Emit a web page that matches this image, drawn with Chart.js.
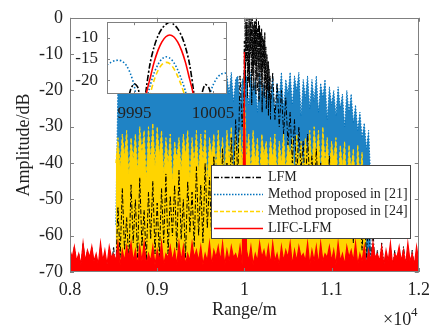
<!DOCTYPE html>
<html>
<head>
<meta charset="utf-8">
<script src="https://cdn.jsdelivr.net/npm/chart.js@4.4.0/dist/chart.umd.min.js"></script>
<style>
  html, body { margin: 0; padding: 0; background: #fff; }
  #wrap { position: relative; width: 437px; height: 329px; }
  #main { position: absolute; left: 0; top: 0; }
  #zoom { position: absolute; left: 55px; top: 3px; }
</style>
</head>
<body>
<div id="wrap">
  <canvas id="main" width="437" height="329"></canvas>
  <canvas id="zoom" width="190" height="125"></canvas>
</div>
<script>
// series names, in legend order
const seriesNames = ['LFM', 'Method proposed in [21]', 'Method proposed in [24]', 'LIFC-LFM'];

// main axes
const rangeTicks = [8000, 9000, 10000, 11000, 12000];
const rangeTickLabels = ['0.8', '0.9', '1', '1.1', '1.2'];
const ampTicks = [0, -10, -20, -30, -40, -50, -60, -70];

// range samples: start (m) and step (m)
const gridStart = 8000;
const gridStep = 25;

// LFM, 8000..12000
const lfm = [
  -64,-70,-63,-69,-65,-70,-62,-68,-64,-70,-63,-69,-66,-70,-63,-68,-65,-70,-64,-69,
  -63,-70,-52,-66,-47,-64,-55,-68,-46,-62,-50,-66,-44,-63,-53,-67,-48,-61,-45,-65,
  -51,-66,-47,-62,-43,-65,-49,-60,-46,-64,-42,-61,-50,-66,-45,-59,-48,-63,-41,-60,
  -46,-62,-40,-58,-44,-61,-38,-55,-42,-60,-36,-52,-40,-57,-33,-48,-28,-45,-16,-30,
  -15,
  -2,-18,0,-14,-1,-20,-3,-16,-6,-22,-12,-25,-15,-28,-18,-30,-20,-32,-22,-35,
  -26,-40,-28,-45,-30,-42,-34,-48,-32,-46,-38,-52,-36,-50,-40,-55,-42,-53,-38,-56,
  -44,-58,-41,-55,-46,-60,-43,-57,-48,-62,-45,-58,-50,-64,-52,-66,-55,-68,-58,-70,
  -64,-70,-62,-68,-65,-70,-63,-69,-64,-70,-66,-70,-63,-68,-65,-70,-64,-69,-66,-70
];
// LFM main peak burst, 10006..10300 step 6
const burstStart = 10006;
const burstStep = 6;
const lfmBurst = [
  0,-18,-1,-12,0,-22,-2,-15,0,-19,-1,-10,-3,-24,0,-16,-2,-20,-1,-13,
  -2,-21,0,-17,-3,-12,-1,-23,-2,-15,-4,-19,-3,-26,-5,-14,-6,-22,-4,-18,
  -8,-25,-10,-20,-12,-27,-14,-22,-16,-28
];

// LIFC-LFM, 8000..12000
const lifc = [
  -64,-66,-63,-67,-65,-68,-62,-67,-64,-66,-63,-67,-65,-68,-62,-67,-64,-68,-63,-66,
  -65,-67,-62,-68,-64,-67,-63,-66,-62,-67,-64,-68,-63,-67,-62,-68,-65,-67,-63,-68,
  -64,-67,-62,-68,-65,-66,-63,-67,-64,-68,-62,-67,-63,-68,-65,-67,-62,-66,-64,-67,
  -63,-68,-65,-67,-62,-68,-64,-66,-63,-67,-62,-68,-64,-67,-63,-66,-65,-67,-63,-68,
  -65,
  -64,-67,-63,-68,-65,-67,-62,-66,-64,-67,-63,-68,-62,-67,-65,-68,-63,-67,-64,-66,
  -62,-68,-64,-67,-63,-66,-65,-67,-62,-68,-64,-67,-63,-68,-62,-67,-65,-66,-63,-67,
  -64,-68,-62,-67,-65,-68,-63,-66,-64,-67,-62,-68,-65,-67,-63,-68,-64,-67,-62,-66,
  -65,-67,-63,-68,-64,-67,-62,-68,-65,-66,-63,-67,-64,-68,-62,-67,-65,-68,-63,-67
];

// Method [21], 8525..11450
const m21Start = 8525;
const m21 = [
  -57,-18,-15,-19,-14,-17,-20,-15,-18,-16,
  -19,-14,-17,-20,-15,-18,-16,-19,-14,-17,
  -20,-15,-18,-16,-19,-14,-17,-20,-15,-18,
  -16,-19,-14,-17,-20,-15,-18,-16,-19,-14,
  -17,-20,-15,-18,-16,-19,-15,-17,-20,-16,
  -18,-16,-21,-15,-23,-17,-16,-24,-17,-15,
  -16,-24,-15,-21,-17,-26,-15,-22,-18,-25,
  -17,-23,-16,-27,-18,-22,-15,-25,-17,-21,
  -15,-24,-16,-20,-15,-27,-17,-22,-16,-25,
  -17,-23,-16,-26,-18,-22,-17,-28,-19,-24,
  -20,-27,-19,-25,-21,-30,-20,-26,-21,-29,
  -24,-31,-26,-33,-29,-36,-31,-45
];

// Method [24], 8525..11400
const m24Start = 8525;
const m24 = [
  -40,-33,-41,-32,-38,-31,-43,-33,-39,-32,
  -42,-30,-37,-31,-44,-30,-39,-29,-41,-30,
  -38,-31,-43,-33,-40,-32,-45,-34,-39,-33,
  -42,-32,-38,-31,-44,-33,-40,-31,-43,-32,
  -39,-31,-45,-33,-38,-32,-42,-31,-40,-33,
  -43,-31,-39,-30,-44,-32,-38,-31,-41,-33,
  -39,-32,-43,-31,-40,-33,-45,-32,-38,-34,
  -42,-33,-39,-32,-44,-34,-40,-32,-43,-34,
  -38,-33,-45,-32,-40,-34,-43,-33,-39,-31,
  -42,-30,-38,-31,-44,-30,-40,-33,-43,-34,
  -39,-33,-46,-35,-41,-34,-47,-35,-42,-36,
  -48,-35,-44,-37,-50,-60
];

// zoomed main lobe, 9991.5..10007 step 0.5
const zoomStart = 9991.5;
const zoomStep = 0.5;
const zoomTicksX = [9995, 10005];
const zoomTicksY = [-20, -15, -10];
const zoomLfm = [
  -40,-40,-40,-40,-36,-27,-22.2,-20.8,-22,-30,-22,-16,-12.2,-9.6,-7.9,-6.9,
  -6.4,-6.9,-7.9,-9.6,-12.2,-16,-22,-30,-24,-21,-21.8,-26,-36,-40,-40,-40
];
const zoomM21 = [
  -16.4,-15.8,-15.4,-15.3,-15.6,-16.6,-18.5,-21.5,-28,-32,-25,-21.2,-18.3,-16.3,-15,-14.5,
  -14.8,-15.8,-17.5,-19.8,-22.6,-27,-34,-40,-34,-28,-24,-21.2,-19.5,-18.6,-18.3,-18.5
];
const zoomM24 = [
  -40,-40,-40,-40,-40,-40,-40,-40,-40,-40,-30,-23.5,-20,-17.7,-16.3,-15.8,
  -16.1,-17.2,-19,-21.3,-24.2,-30,-40,-40,-40,-40,-40,-40,-40,-40,-40,-40
];
const zoomLifc = [
  -40,-40,-40,-40,-40,-40,-40,-40,-40,-40,-23.5,-19.5,-15.8,-13,-11,-9.8,
  -9.4,-9.8,-11,-13,-15.8,-19.5,-23.5,-40,-40,-40,-40,-40,-40,-40,-40,-40
];

const serif = "'Liberation Serif', 'Times New Roman', serif";
const textColor = '#222';

const styles = {
  lfm:  { color: '#000000', dash: [5, 2, 1.5, 2] },
  m21:  { color: '#0072BD', dash: [1.5, 1.5] },
  m24:  { color: '#FFD400', dash: [4, 2] },
  lifc: { color: '#FF0000', dash: [] }
};

function toPoints(x0, dx, vals) {
  return vals.map((v, i) => ({ x: x0 + i * dx, y: v }));
}

// put the zoomed main lobe into the full range series
function withLobe(points, lobeVals) {
  const keep = points.filter(p => p.x < 9990 || p.x > 10008);
  const lobe = toPoints(zoomStart, zoomStep, lobeVals).filter(p => p.y > -24);
  return keep.concat(lobe).sort((a, b) => a.x - b.x);
}

const framePlugin = {
  id: 'frame',
  afterDatasetsDraw(chart, args, opts) {
    const { ctx, chartArea: a, scales: { x, y } } = chart;
    const len = opts.tick;
    ctx.save();
    ctx.strokeStyle = opts.color;
    ctx.lineWidth = 1;
    ctx.beginPath();
    x.ticks.forEach(t => {
      const px = Math.round(x.getPixelForValue(t.value)) + 0.5;
      ctx.moveTo(px, a.bottom); ctx.lineTo(px, a.bottom - len);
      ctx.moveTo(px, a.top); ctx.lineTo(px, a.top + len);
    });
    y.ticks.forEach(t => {
      const py = Math.round(y.getPixelForValue(t.value)) + 0.5;
      ctx.moveTo(a.left, py); ctx.lineTo(a.left + len, py);
      ctx.moveTo(a.right, py); ctx.lineTo(a.right - len, py);
    });
    ctx.stroke();
    ctx.strokeRect(Math.round(a.left) + 0.5, Math.round(a.top) + 0.5,
      Math.round(a.right - a.left) - 1, Math.round(a.bottom - a.top) - 1);
    ctx.restore();
  }
};

const whiteArea = {
  id: 'whiteArea',
  beforeDatasetsDraw(chart) {
    const { ctx, chartArea: a } = chart;
    ctx.save();
    ctx.fillStyle = '#fff';
    ctx.fillRect(a.left, a.top, a.right - a.left, a.bottom - a.top);
    ctx.restore();
  }
};

const legendAndExp = {
  id: 'legendAndExp',
  afterDraw(chart) {
    const { ctx } = chart;
    ctx.save();
    // legend box
    ctx.fillStyle = '#fff';
    ctx.fillRect(211, 165, 199, 73);
    ctx.strokeStyle = '#444';
    ctx.lineWidth = 1;
    ctx.strokeRect(211.5, 165.5, 199, 73);
    const keys = ['lfm', 'm21', 'm24', 'lifc'];
    const rows = [177, 194, 211, 228];
    ctx.font = '14px ' + serif;
    ctx.textBaseline = 'middle';
    keys.forEach((k, i) => {
      ctx.strokeStyle = styles[k].color;
      ctx.setLineDash(styles[k].dash);
      ctx.lineWidth = 1.5;
      ctx.beginPath();
      ctx.moveTo(214, rows[i] + 0.5);
      ctx.lineTo(263, rows[i] + 0.5);
      ctx.stroke();
      ctx.setLineDash([]);
      ctx.fillStyle = textColor;
      ctx.fillText(seriesNames[i], 268, rows[i]);
    });
    // x10^4 exponent
    ctx.textBaseline = 'alphabetic';
    ctx.font = '18px ' + serif;
    ctx.fillText('\u00d710', 383, 325);
    ctx.font = '13px ' + serif;
    ctx.fillText('4', 411, 316);
    ctx.restore();
  }
};

const mainData = [
  { label: seriesNames[3], data: withLobe(toPoints(gridStart, gridStep, lifc), zoomLifc),
    borderColor: styles.lifc.color, backgroundColor: styles.lifc.color, fill: 'start',
    borderWidth: 1.2, order: 0 },
  { label: seriesNames[0], data: withLobe(toPoints(gridStart, gridStep, lfm), zoomLfm),
    borderColor: styles.lfm.color, borderDash: styles.lfm.dash, fill: false,
    borderWidth: 1, order: 1 },
  { label: seriesNames[0], data: toPoints(burstStart, burstStep, lfmBurst),
    borderColor: styles.lfm.color, borderDash: [4, 1, 1.5, 1], fill: false,
    borderWidth: 1, order: 1 },
  { label: seriesNames[2], data: withLobe(toPoints(m24Start, gridStep, m24), zoomM24),
    borderColor: styles.m24.color, backgroundColor: styles.m24.color, borderDash: styles.m24.dash,
    fill: 'start', borderWidth: 1, order: 2 },
  { label: seriesNames[1], data: withLobe(toPoints(m21Start, gridStep, m21), zoomM21),
    borderColor: styles.m21.color, backgroundColor: 'rgba(0,114,189,0.88)', borderDash: styles.m21.dash,
    fill: 'start', borderWidth: 1, order: 3 }
];

const noGrid = { display: false, drawTicks: false };

new Chart(document.getElementById('main'), {
  type: 'line',
  data: { datasets: mainData },
  options: {
    responsive: false,
    animation: false,
    parsing: false,
    normalized: true,
    devicePixelRatio: 1,
    layout: { padding: { left: 0, right: 14, top: 13, bottom: 0 } },
    elements: { point: { radius: 0 }, line: { tension: 0 } },
    plugins: {
      legend: { display: false },
      tooltip: { enabled: false },
      frame: { color: '#808080', tick: 4 }
    },
    scales: {
      x: {
        type: 'linear', min: 8000, max: 12000,
        grid: noGrid, border: { display: false },
        afterBuildTicks: s => { s.ticks = rangeTicks.map(v => ({ value: v })); },
        afterFit: s => { s.height = 57; },
        ticks: {
          padding: 7, maxRotation: 0, color: textColor, font: { family: serif, size: 18 },
          callback: (v) => rangeTickLabels[rangeTicks.indexOf(v)]
        },
        title: { display: true, text: 'Range/m', color: textColor,
          font: { family: serif, size: 18 }, padding: { top: 0, bottom: 8 } }
      },
      y: {
        type: 'linear', min: -70, max: 0,
        grid: noGrid, border: { display: false },
        afterBuildTicks: s => { s.ticks = ampTicks.map(v => ({ value: v })); },
        afterFit: s => { s.width = 70; },
        ticks: { padding: 7, color: textColor, font: { family: serif, size: 18 },
          callback: v => String(v) },
        title: { display: true, text: 'Amplitude/dB', color: textColor,
          font: { family: serif, size: 18 }, padding: { top: 13, bottom: 0 } }
      }
    }
  },
  plugins: [framePlugin, legendAndExp]
});

new Chart(document.getElementById('zoom'), {
  type: 'line',
  data: {
    datasets: [
      { data: toPoints(zoomStart, zoomStep, zoomLifc), borderColor: styles.lifc.color,
        borderWidth: 1.6, order: 0 },
      { data: toPoints(zoomStart, zoomStep, zoomLfm), borderColor: styles.lfm.color,
        borderDash: [6, 2, 2, 2], borderWidth: 1.6, order: 1 },
      { data: toPoints(zoomStart, zoomStep, zoomM24), borderColor: styles.m24.color,
        borderDash: [5, 3], borderWidth: 1.6, order: 2 },
      { data: toPoints(zoomStart, zoomStep, zoomM21), borderColor: styles.m21.color,
        borderDash: [1.5, 2], borderWidth: 1.6, order: 3 }
    ]
  },
  options: {
    responsive: false,
    animation: false,
    parsing: false,
    devicePixelRatio: 1,
    layout: { padding: { left: 0, right: 16, top: 12, bottom: 0 } },
    elements: { point: { radius: 0 }, line: { tension: 0.3 } },
    plugins: {
      legend: { display: false },
      tooltip: { enabled: false },
      frame: { color: '#808080', tick: 3 }
    },
    scales: {
      x: {
        type: 'linear', min: 9991.5, max: 10006.75,
        grid: noGrid, border: { display: false },
        afterBuildTicks: s => { s.ticks = zoomTicksX.map(v => ({ value: v })); },
        afterFit: s => { s.height = 34; },
        ticks: { padding: 9, maxRotation: 0, color: textColor, font: { family: serif, size: 17 },
          callback: v => String(v) }
      },
      y: {
        type: 'linear', min: -23.2, max: -6.4,
        grid: noGrid, border: { display: false },
        afterBuildTicks: s => { s.ticks = zoomTicksY.map(v => ({ value: v })); },
        afterFit: s => { s.width = 52; },
        ticks: { padding: 9, color: textColor, font: { family: serif, size: 17 },
          callback: v => String(v) }
      }
    }
  },
  plugins: [whiteArea, framePlugin]
});
</script>
</body>
</html>
